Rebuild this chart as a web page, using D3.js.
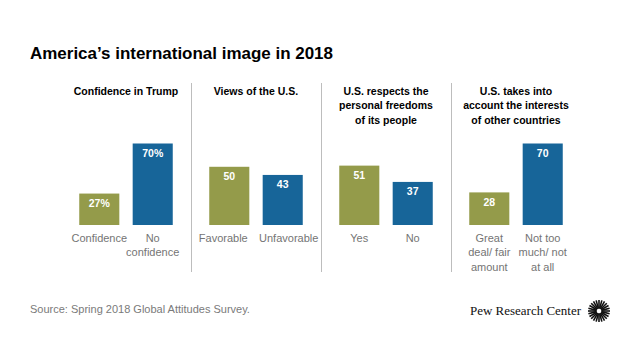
<!DOCTYPE html>
<html><head><meta charset="utf-8">
<script src="https://cdn.jsdelivr.net/npm/d3@7"></script>
<style>body{margin:0;background:#fff}svg{display:block}text{font-family:Arial,"Liberation Sans",sans-serif}</style>
</head><body><svg id="c" width="640" height="360"></svg>
<script>
const title = "America\u2019s international image in 2018";
const panelTitles = [
  ["Confidence in Trump"],
  ["Views of the U.S."],
  ["U.S. respects the", "personal freedoms", "of its people"],
  ["U.S. takes into", "account the interests", "of other countries"]
];
const categories = [
  [["Confidence"], ["No", "confidence"]],
  [["Favorable"], ["Unfavorable"]],
  [["Yes"], ["No"]],
  [["Great", "deal/ fair", "amount"], ["Not too", "much/ not", "at all"]]
];
const values = [[27, 70], [50, 43], [51, 37], [28, 70]];
const valueLabels = [["27%", "70%"], ["50", "43"], ["51", "37"], ["28", "70"]];
const colors = ["#949b4a", "#176599"];
const source = "Source: Spring 2018 Global Attitudes Survey.";
const brand = "Pew Research Center";

const svg = d3.select("#c");
svg.append("text").attr("x", 30).attr("y", 59).attr("font-size", 17).attr("font-weight", "bold")
  .attr("fill", "#000").attr("textLength", 303).attr("lengthAdjust", "spacingAndGlyphs").text(title);

const px = d3.scaleBand().domain(d3.range(4)).range([61, 581]).paddingInner(0);
const y = d3.scaleLinear().domain([0, 70]).range([225, 143.5]);

// separators
[1, 2, 3].forEach(i => {
  svg.append("line").attr("x1", px(i) + 0.5).attr("x2", px(i) + 0.5).attr("y1", 83).attr("y2", 272)
    .attr("stroke", "#bdbdbd").attr("stroke-width", 1);
});

d3.range(4).forEach(p => {
  const c = px(p) + px.bandwidth() / 2;
  const g = svg.append("g");
  panelTitles[p].forEach((line, i) => {
    g.append("text").attr("x", c).attr("y", 95 + i * 14.3).attr("text-anchor", "middle")
      .attr("font-size", 10.5).attr("font-weight", "bold").attr("fill", "#000").text(line);
  });
  const bx = d3.scaleBand().domain([0, 1]).range([c - 46.75, c + 46.75]).paddingInner(0.25).paddingOuter(0);
  // wide single-line labels are spread apart a little so they do not touch
  const spread = categories[p].every(l => l.length === 1 && l[0].length > 8) ? 6 : 0;
  values[p].forEach((v, j) => {
    g.append("rect").attr("x", bx(j)).attr("y", y(v)).attr("width", bx.bandwidth()).attr("height", y(0) - y(v))
      .attr("fill", colors[j]);
    g.append("text").attr("x", bx(j) + bx.bandwidth() / 2).attr("y", y(v) + 13.5).attr("text-anchor", "middle")
      .attr("font-size", 10.5).attr("font-weight", "bold").attr("fill", "#fff").text(valueLabels[p][j]);
    categories[p][j].forEach((line, i) => {
      g.append("text").attr("x", bx(j) + bx.bandwidth() / 2 + (j === 0 ? -spread : spread))
        .attr("y", 242 + i * 14.3).attr("text-anchor", "middle")
        .attr("font-size", 11).attr("fill", "#747474").text(line);
    });
  });
});

svg.append("text").attr("x", 30).attr("y", 313).attr("font-size", 11).attr("fill", "#7a7a7a").text(source);
svg.append("text").attr("x", 470).attr("y", 315).attr("font-size", 13.5)
  .style("font-family", "'Liberation Serif','DejaVu Serif',serif").attr("fill", "#111")
  .attr("textLength", 111).attr("lengthAdjust", "spacingAndGlyphs").text(brand);
// logo starburst
const logo = svg.append("g").attr("transform", "translate(599,311)");
d3.range(24).forEach(k => {
  const a = k / 24 * 2 * Math.PI;
  logo.append("line").attr("x1", Math.cos(a) * 2.5).attr("y1", Math.sin(a) * 2.5)
    .attr("x2", Math.cos(a) * 11).attr("y2", Math.sin(a) * 11)
    .attr("stroke", "#111").attr("stroke-width", 1.6);
});
</script></body></html>
